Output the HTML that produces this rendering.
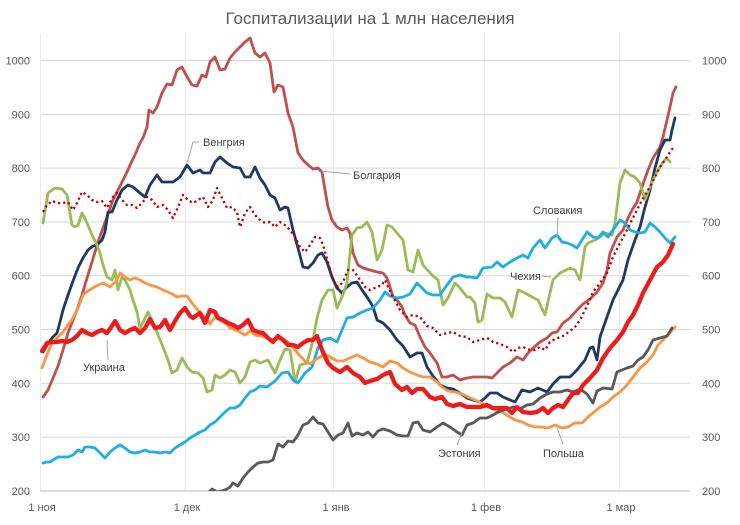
<!DOCTYPE html>
<html><head><meta charset="utf-8"><style>
html,body{margin:0;padding:0;background:#fff;}
svg{display:block;}
text{font-family:"Liberation Sans","DejaVu Sans",sans-serif;}
</style></head><body>
<svg width="740" height="525" viewBox="0 0 740 525" xmlns="http://www.w3.org/2000/svg">
<defs><clipPath id="pa"><rect x="40" y="30" width="650" height="461"/></clipPath></defs>
<rect width="740" height="525" fill="#fff"/>
<text x="370" y="24" text-anchor="middle" font-size="17" fill="#595959">Госпитализации на 1 млн населения</text>
<g stroke="#d9d9d9" stroke-width="1">
<line x1="40" y1="60.5" x2="690" y2="60.5"/>
<line x1="40" y1="114.3" x2="690" y2="114.3"/>
<line x1="40" y1="168.1" x2="690" y2="168.1"/>
<line x1="40" y1="221.9" x2="690" y2="221.9"/>
<line x1="40" y1="275.7" x2="690" y2="275.7"/>
<line x1="40" y1="329.5" x2="690" y2="329.5"/>
<line x1="40" y1="383.3" x2="690" y2="383.3"/>
<line x1="40" y1="437.1" x2="690" y2="437.1"/>
</g>
<g stroke="#ececec" stroke-width="1">
<line x1="40.5" y1="34" x2="40.5" y2="491"/>
<line x1="185.5" y1="34" x2="185.5" y2="491"/>
<line x1="333.5" y1="34" x2="333.5" y2="491"/>
<line x1="484.5" y1="34" x2="484.5" y2="491"/>
<line x1="619.5" y1="34" x2="619.5" y2="491"/>
</g>
<line x1="40" y1="491" x2="690" y2="491" stroke="#c8c8c8" stroke-width="1.2"/>
<g font-size="11" fill="#595959" text-anchor="end">
<text x="30" y="64.5">1000</text><text x="30" y="118.3">900</text><text x="30" y="172.1">800</text><text x="30" y="225.9">700</text><text x="30" y="279.7">600</text><text x="30" y="333.5">500</text><text x="30" y="387.3">400</text><text x="30" y="441.1">300</text><text x="30" y="495">200</text>
</g>
<g font-size="11" fill="#595959" text-anchor="start">
<text x="702" y="64.5">1000</text><text x="702" y="118.3">900</text><text x="702" y="172.1">800</text><text x="702" y="225.9">700</text><text x="702" y="279.7">600</text><text x="702" y="333.5">500</text><text x="702" y="387.3">400</text><text x="702" y="441.1">300</text><text x="702" y="495">200</text>
</g>
<g font-size="11" fill="#595959" text-anchor="middle">
<text x="42" y="511">1 ноя</text><text x="187" y="511">1 дек</text><text x="336" y="511">1 янв</text><text x="486" y="511">1 фев</text><text x="621" y="511">1 мар</text>
</g>
<g clip-path="url(#pa)" fill="none" stroke-linejoin="round" stroke-linecap="round">
<!-- Bulgaria -->
<polyline stroke="#c0504d" stroke-width="2.8" points="43,397 48,390 53,378 58,366 63,350 68,333 73,320 77,310 82,295 87,278 92,262 98,242 103,228 108,214 113,200 118,190 122,182 127,172 131,163 135,155 140,143 143,138 147,127 149,110 153,113 157,107 162,93 167,84 172,85 177,70 182,67 186,75 192,85 197,86 202,75 206,77 210,62 215,57 220,70 225,69 230,58 235,52 240,47 245,42 250,38 255,53 260,57 265,53 270,63 274,92 278,85 283,87 288,113 293,127 298,153 303,160 308,165 313,169 318,168 322,172 325,190 328,207 332,220 337,227 342,230 347,228 350,233 353,253 358,265 363,268 370,270 377,272 383,273 387,278 390,287 393,297 397,300 402,307 405,315 410,323 415,325 420,337 425,347 430,353 437,363 442,377 447,377 453,375 460,380 467,378 473,377 480,377 487,377 492,378 497,373 503,367 510,363 517,357 523,360 528,353 533,348 540,342 547,338 552,333 557,332 563,323 570,318 577,310 583,304 590,299 597,292 603,283 607,270 610,253 617,237 623,230 628,218 632,210 637,202 642,187 648,170 653,158 660,147 663,137 667,120 670,107 673,93 676,87"/>
<!-- Hungary -->
<polyline stroke="#1f3864" stroke-width="2.8" points="43,352 47,345 52,338 57,333 60,322 63,310 68,295 73,281 78,268 83,258 88,250 93,246 97,245 102,240 105,232 108,212 112,212 117,200 122,190 128,185 133,187 140,193 145,197 150,185 157,175 162,182 167,182 173,182 180,177 187,165 193,173 200,170 203,173 210,173 215,162 220,157 227,163 233,167 240,168 245,177 250,177 255,167 260,178 265,185 270,195 275,198 280,210 285,207 288,208 293,230 298,248 303,267 308,268 313,263 318,255 322,253 327,262 332,277 337,288 342,293 347,287 352,283 357,282 362,290 367,297 372,305 375,313 377,320 383,323 390,330 397,340 403,346 410,357 417,353 422,353 427,367 433,376 440,385 447,388 453,389 460,393 467,398 473,400 480,402 485,398 490,393 497,393 503,397 510,400 515,402 522,390 530,392 538,388 547,392 553,384 560,377 570,377 577,370 585,360 590,348 593,347 597,360 600,337 607,317 613,300 618,290 623,280 628,260 635,240 640,227 645,207 650,190 655,168 660,150 665,140 670,140 672,130 675,118"/>
<!-- Czech -->
<polyline stroke="#9bbb59" stroke-width="2.8" points="43,223 48,193 55,188 62,189 67,195 72,225 75,227 78,225 82,213 87,223 92,235 97,245 100,253 103,265 107,277 112,280 115,270 118,290 122,277 125,280 130,290 133,300 137,312 140,328 143,322 148,312 153,323 158,335 163,347 168,360 172,373 177,370 182,358 187,367 192,372 198,373 203,378 207,392 212,390 215,375 220,378 225,375 230,370 235,372 240,383 245,377 250,362 255,360 260,363 268,360 275,373 280,360 285,349 290,350 295,382 300,365 307,363 313,340 317,318 322,300 328,290 333,290 337,308 342,297 347,283 352,235 357,228 362,227 367,222 372,232 377,260 382,250 387,225 392,227 397,233 403,240 408,270 413,272 418,250 423,265 432,275 438,280 443,305 448,298 455,283 460,288 467,297 470,297 475,303 478,322 482,320 487,294 493,298 500,298 505,302 512,317 518,290 525,293 532,297 538,300 545,315 550,293 553,280 560,273 570,268 575,270 580,280 585,247 588,243 595,240 600,237 605,233 612,235 615,223 620,183 625,170 630,175 635,177 640,183 645,200 648,192 653,180 658,170 663,162 667,158 670,162"/>
<!-- Slovakia -->
<polyline stroke="#1eaee6" stroke-width="2.8" points="43,463 47,462 50,462 53,460 58,457 63,457 68,457 73,455 78,450 82,452 85,447 90,447 95,448 100,453 105,458 110,452 115,448 120,445 125,448 130,452 135,453 140,452 145,450 150,452 155,452 160,453 165,452 170,453 175,448 180,445 185,442 190,438 195,435 200,432 205,430 210,425 215,422 220,417 225,412 230,408 235,408 240,405 245,398 250,392 255,390 260,386 267,387 275,381 282,373 288,372 293,380 298,383 305,373 312,367 318,348 323,340 330,338 337,342 342,330 347,318 353,317 360,313 367,310 373,308 380,300 385,292 390,296 397,298 403,297 410,294 417,283 422,288 427,293 433,295 440,295 447,285 453,277 460,275 467,277 470,277 477,278 483,268 492,267 497,262 503,267 510,262 517,258 523,255 528,258 533,248 540,240 545,248 552,238 557,235 562,242 567,243 572,245 577,248 582,240 587,232 593,237 598,238 603,232 608,237 613,230 620,220 625,223 630,230 635,232 640,233 645,232 650,223 655,227 660,232 665,238 670,243 675,237"/>
<!-- Poland -->
<polyline stroke="#f79646" stroke-width="2.8" points="42,368 47,355 50,347 53,342 58,337 63,332 68,325 73,318 78,308 83,295 88,291 93,288 98,285 103,283 110,287 117,280 120,273 125,277 130,280 135,278 140,280 145,283 150,285 157,287 163,290 168,292 172,294 177,297 182,296 187,296 192,303 197,309 202,315 207,319 210,324 215,317 220,320 225,323 230,328 235,330 240,332 245,335 250,331 255,335 260,336 265,337 270,339 275,340 280,338 285,340 290,344 295,350 300,356 305,361 310,364 315,360 320,357 325,354 330,357 337,361 343,361 350,358 357,355 363,358 370,362 377,364 383,367 390,361 397,363 403,368 410,372 417,375 423,377 430,377 437,382 442,387 448,391 455,392 462,394 468,397 475,400 482,403 488,407 495,410 502,412 508,416 515,420 522,422 528,425 535,427 542,427 548,428 555,425 562,428 568,427 575,423 582,423 588,417 593,413 600,407 607,403 613,397 620,392 627,385 633,377 640,368 647,362 653,355 658,345 663,340 668,335 675,327"/>
<!-- Estonia -->
<polyline stroke="#595959" stroke-width="2.8" points="208,493 212,489 217,492 222,491 227,489 230,487 233,483 238,486 243,478 248,472 253,467 258,463 263,462 268,462 273,460 278,444 283,447 288,441 293,442 298,435 303,425 308,423 313,417 318,423 323,424 328,432 333,440 338,435 343,433 348,423 352,436 357,433 363,435 368,432 373,437 378,431 383,429 390,431 397,435 403,436 408,436 413,423 418,422 423,430 430,432 437,427 443,423 450,427 457,432 462,435 467,425 473,423 480,418 487,418 493,415 500,411 507,409 513,407 520,409 527,405 533,404 540,398 547,394 553,392 560,392 567,390 573,392 580,389 587,394 593,403 597,391 603,388 612,389 617,372 622,370 627,368 633,366 638,360 643,357 648,350 653,340 660,338 667,336 672,328"/>
<!-- dotted -->
<polyline stroke="#c00000" stroke-width="2.3" stroke-linecap="butt" stroke-dasharray="2.2 3" points="43,212 47,205 52,201 58,203 63,203 68,202 73,210 77,203 82,192 87,195 92,200 97,202 102,201 107,208 113,197 117,193 122,200 127,205 132,205 137,208 142,203 147,197 152,200 157,207 163,205 168,210 173,218 178,207 183,195 188,200 193,203 198,200 203,197 208,207 213,200 217,188 222,198 227,208 232,207 237,212 240,227 245,213 250,207 255,215 260,220 265,223 270,222 275,227 280,222 285,225 290,230 295,237 300,247 305,252 310,245 315,237 320,238 323,245 328,262 333,280 338,287 343,282 348,270 353,270 358,277 365,287 370,290 377,287 382,285 385,280 388,287 393,297 400,310 407,317 413,315 420,317 427,326 433,328 440,335 447,333 453,332 460,336 467,337 473,342 480,340 487,338 493,342 500,344 507,347 513,352 518,348 523,347 530,350 535,350 540,347 545,350 550,342 555,339 563,336 570,331 575,327 580,320 587,306 593,292 600,283 607,273 613,257 620,243 627,230 632,220 637,210 642,200 647,192 652,183 657,173 660,167 665,160 668,155 673,148"/>
<!-- Ukraine -->
<polyline stroke="#ec1c1c" stroke-width="4.3" points="42,351 47,343 52,342 57,342 62,341 67,342 72,340 77,336 82,330 87,333 92,335 97,332 102,330 107,333 112,326 115,321 120,330 125,333 130,330 135,328 140,333 145,328 150,319 155,328 160,327 165,320 170,330 175,321 180,313 185,308 190,316 193,318 197,315 200,313 205,323 210,310 215,312 218,318 223,320 228,323 233,325 238,328 243,325 248,320 253,330 258,332 263,333 268,338 273,342 278,336 283,340 288,345 293,345 298,347 303,343 308,340 313,340 317,336 322,350 328,363 333,368 340,372 347,367 353,373 360,377 365,383 370,381 377,379 383,375 390,372 395,384 402,390 407,387 412,393 417,389 423,389 430,397 435,399 442,397 447,404 453,406 460,404 467,407 473,407 480,407 487,405 493,408 500,408 507,408 512,413 517,407 523,412 530,413 537,412 543,408 548,413 553,408 558,405 563,407 568,400 573,393 578,393 583,385 590,378 597,370 603,358 610,348 617,340 623,332 628,322 633,315 638,305 643,293 650,280 657,267 663,262 668,255 673,244"/>
</g>
<g stroke="#a6a6a6" stroke-width="1" fill="none">
<polyline points="187,163 193,142 199,142"/>
<polyline points="321,171 350,174"/>
<polyline points="558,218 557,238"/>
<polyline points="542,276 551,277"/>
<polyline points="107,340 108,360"/>
<polyline points="462,433 457,445"/>
<polyline points="557,428 563,444"/>
</g>
<g font-size="11" fill="#404040">
<text x="203" y="146">Венгрия</text>
<text x="353" y="179">Болгария</text>
<text x="533" y="214">Словакия</text>
<text x="510" y="280">Чехия</text>
<text x="83" y="371">Украина</text>
<text x="438" y="457">Эстония</text>
<text x="543" y="457">Польша</text>
</g>
</svg>
</body></html>
